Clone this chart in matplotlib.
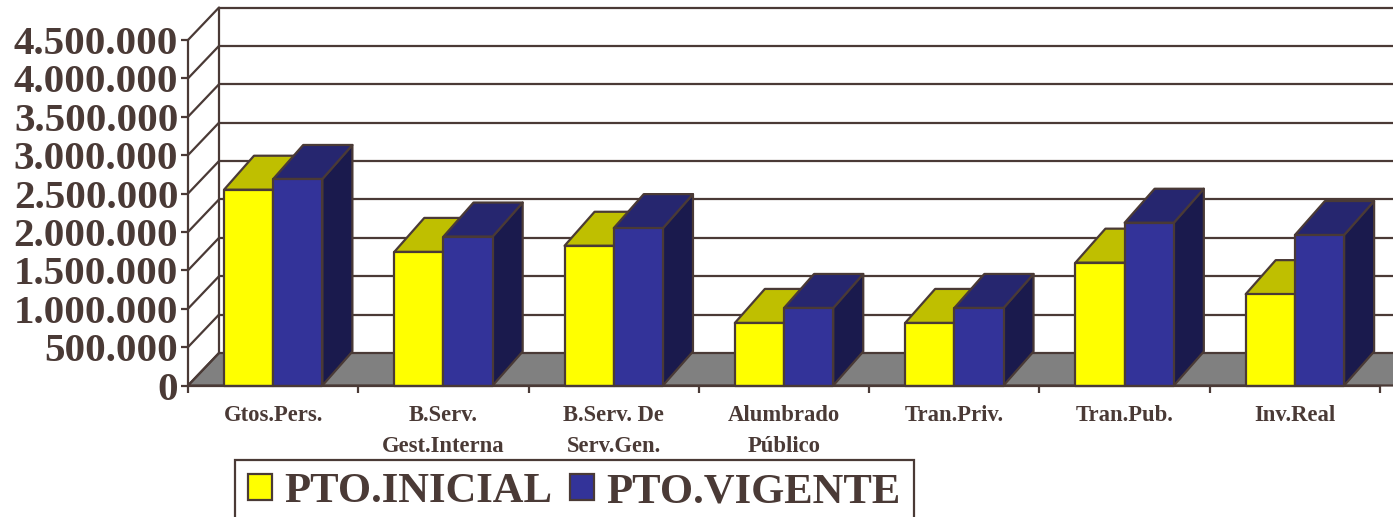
import matplotlib
matplotlib.use("Agg")
import matplotlib.pyplot as plt
from matplotlib.patches import Polygon, Patch

categories = ["Gtos.Pers.", "B.Serv.\nGest.Interna", "B.Serv. De\nServ.Gen.", "Alumbrado\nPúblico",
              "Tran.Priv.", "Tran.Pub.", "Inv.Real"]
pto_inicial = [2550000, 1740000, 1820000, 815000, 815000, 1600000, 1190000]
pto_vigente = [2690000, 1940000, 2050000, 1010000, 1010000, 2120000, 1960000]
y_ticks = [0, 500000, 1000000, 1500000, 2000000, 2500000, 3000000, 3500000, 4000000, 4500000]
y_labels = ["0", "500.000", "1.000.000", "1.500.000", "2.000.000", "2.500.000", "3.000.000",
            "3.500.000", "4.000.000", "4.500.000"]

ink = "#4a3a36"
W, H = 1393, 517
plt.rcParams["font.family"] = ["Liberation Serif", "DejaVu Sans"]
plt.rcParams["font.weight"] = "bold"

fig = plt.figure(figsize=(W / 100, H / 100), dpi=100)
ax = fig.add_axes([188 / W, 1 - 385.5 / H, 1192 / W, 345.5 / H])
ax.set_xlim(0, 7)
ax.set_ylim(0, 4500000)
ax.patch.set_visible(False)

# depth of the fake 3d box, in data units
px_x = 1192 / 7
px_y = 345.5 / 4500000
dx = 31 / px_x
dy = 32.5 / px_y
bar_dx = 30 / px_x
bar_dy = 34 / px_y
ymax = 4500000
right = 7 + 13 / px_x


def poly(pts, fc, z):
    ax.add_patch(Polygon(pts, closed=True, facecolor=fc, edgecolor=ink, linewidth=1.6,
                         joinstyle="round", clip_on=False, zorder=z))


def line(xs, ys, z=2):
    ax.plot(xs, ys, color=ink, lw=1.6, clip_on=False, zorder=z, solid_capstyle="round")


def bar3d(x, w, h, front, top, side, z):
    poly([(x + w, 0), (x + w + bar_dx, bar_dy), (x + w + bar_dx, h + bar_dy), (x + w, h)], side, z)
    poly([(x, h), (x + bar_dx, h + bar_dy), (x + w + bar_dx, h + bar_dy), (x + w, h)], top, z)
    poly([(x, 0), (x + w, 0), (x + w, h), (x, h)], front, z)


# floor
poly([(0, 0), (dx, dy), (right + 1, dy), (right + 1 - dx, 0)], "#808080", 1)

# walls and grid
for t in y_ticks:
    line([0, dx], [t, t + dy])
    if t > 0:
        line([dx, right + 1], [t + dy, t + dy])
line([dx, dx], [dy, ymax + dy])
line([0, 0], [0, ymax])
line([0, 7], [0, 0], 20)

bw = 49.2 / px_x
off = 36 / px_x
for i in range(len(categories)):
    bar3d(i + off, bw, pto_inicial[i], "#ffff00", "#bfbf00", "#808000", 3 + i * 2)
    bar3d(i + off + bw, bw, pto_vigente[i], "#333399", "#26266f", "#1a1a4d", 4 + i * 2)

for s in ax.spines.values():
    s.set_visible(False)
ax.set_yticks(y_ticks)
ax.set_yticklabels(y_labels, fontsize=29.6, color=ink, fontweight="bold")
ax.tick_params(axis="y", length=5, width=1.6, color=ink, pad=2)
ax.set_xticks(range(8))
ax.set_xticklabels([])
ax.tick_params(axis="x", which="major", length=5, width=1.6, color=ink)
ax.set_xticks([i + 0.5 for i in range(7)], minor=True)
ax.set_xticklabels(categories, minor=True, fontsize=16.3, color=ink, fontweight="bold", linespacing=1.65)
ax.tick_params(axis="x", which="minor", length=0, pad=14)

handles = [Patch(facecolor="#ffff00", edgecolor=ink, linewidth=1.6, label="PTO.INICIAL"),
           Patch(facecolor="#333399", edgecolor=ink, linewidth=1.6, label="PTO.VIGENTE")]
leg = fig.legend(handles=handles, loc="upper left", bbox_to_anchor=(235 / W, 1 - 460 / H), ncol=2,
                 prop={"family": "Liberation Serif", "weight": "bold", "size": 30.7},
                 fancybox=False, framealpha=1, edgecolor=ink, borderpad=0.31,
                 handlelength=0.55, handleheight=0.58, handletextpad=0.3, columnspacing=0.42,
                 borderaxespad=0, labelcolor=ink)
leg.get_frame().set_linewidth(1.6)

fig.savefig("out.png", dpi=100)
